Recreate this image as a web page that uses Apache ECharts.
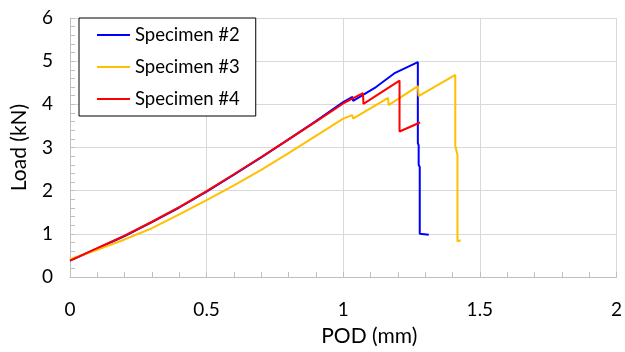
<!DOCTYPE html>
<html>
<head>
<meta charset="utf-8">
<script src="https://cdn.jsdelivr.net/npm/echarts@6/dist/echarts.min.js"></script>
<style>html,body{margin:0;padding:0;background:#fff}#c{width:625px;height:352px}</style>
</head>
<body>
<div id="c"></div>
<script>
// Specimen #2 (blue)
const podS2  = [0, 0.1, 0.2, 0.3, 0.4, 0.5, 0.6, 0.7, 0.8, 0.9, 1.0, 1.034, 1.036, 1.12, 1.19, 1.196, 1.273, 1.273, 1.276, 1.276, 1.28, 1.28, 1.313];
const loadS2 = [0.38, 0.66, 0.95, 1.27, 1.61, 1.98, 2.37, 2.77, 3.19, 3.61, 4.05, 4.17, 4.08, 4.40, 4.73, 4.72, 4.98, 3.10, 3.05, 2.60, 2.55, 1.00, 0.98];
// Specimen #3 (yellow)
const podS3  = [0, 0.1, 0.2, 0.3, 0.4, 0.5, 0.6, 0.7, 0.8, 0.9, 1.0, 1.033, 1.036, 1.164, 1.166, 1.273, 1.276, 1.41, 1.41, 1.412, 1.418, 1.418, 1.43];
const loadS3 = [0.41, 0.63, 0.87, 1.13, 1.45, 1.78, 2.12, 2.48, 2.87, 3.27, 3.67, 3.75, 3.67, 4.15, 3.98, 4.42, 4.19, 4.68, 3.05, 2.98, 2.83, 0.83, 0.85];
// Specimen #4 (red)
const podS4  = [0, 0.1, 0.2, 0.3, 0.4, 0.5, 0.6, 0.7, 0.8, 0.9, 1.0, 1.072, 1.074, 1.206, 1.206, 1.281];
const loadS4 = [0.38, 0.67, 0.96, 1.28, 1.62, 1.99, 2.38, 2.78, 3.19, 3.60, 4.02, 4.26, 4.01, 4.55, 3.37, 3.58];

const seriesNames = ['Specimen #2', 'Specimen #3', 'Specimen #4'];
const seriesColors = ['#0000FF', '#FFC000', '#FF0000'];

const zip = (xs, ys) => xs.map((x, i) => [x, ys[i]]);
const dataSets = [zip(podS2, loadS2), zip(podS3, loadS3), zip(podS4, loadS4)];

const FONT = 'Lato, "Open Sans", sans-serif';
const chart = echarts.init(document.getElementById('c'), null, {renderer: 'canvas'});
chart.setOption({
  animation: false,
  grid: {left: 70, right: 5, top: 18, bottom: 71, containLabel: false},
  legend: {
    orient: 'vertical',
    left: 79, top: 18,
    padding: [7, 16, 7, 18],
    icon: 'rect',
    itemWidth: 33, itemHeight: 2, itemGap: 12,
    borderColor: '#000', borderWidth: 1,
    backgroundColor: '#fff',
    textStyle: {fontFamily: FONT, fontSize: 18.5, lineHeight: 20, color: '#000'},
    data: seriesNames
  },
  xAxis: {
    type: 'value', min: 0, max: 2, interval: 0.5,
    name: 'POD (mm)', nameLocation: 'middle', nameGap: 49,
    nameTextStyle: {fontFamily: FONT, fontSize: 21, color: '#000', padding: [0, 0, 0, 52]},
    axisLine: {show: true, lineStyle: {color: '#bfbfbf', width: 1}},
    axisTick: {show: true, inside: true, length: 5, lineStyle: {color: '#bfbfbf'}},
    minorTick: {show: true, splitNumber: 5, length: 5, lineStyle: {color: '#bfbfbf'}},
    axisLabel: {fontFamily: FONT, fontSize: 19, color: '#000', margin: 23},
    splitLine: {show: true, lineStyle: {color: '#d9d9d9', width: 1}}
  },
  yAxis: {
    type: 'value', min: 0, max: 6, interval: 1,
    name: 'Load (kN)', nameLocation: 'middle', nameGap: 40,
    nameTextStyle: {fontFamily: FONT, fontSize: 21, color: '#000'},
    axisLine: {show: true, lineStyle: {color: '#bfbfbf', width: 1}},
    axisTick: {show: true, inside: true, length: 5, lineStyle: {color: '#bfbfbf'}},
    minorTick: {show: true, splitNumber: 5, length: 5, lineStyle: {color: '#bfbfbf'}},
    axisLabel: {fontFamily: FONT, fontSize: 19, color: '#000', margin: 17},
    splitLine: {show: true, lineStyle: {color: '#d9d9d9', width: 1}}
  },
  series: seriesNames.map((n, i) => ({
    name: n, type: 'line', data: dataSets[i],
    showSymbol: false, symbol: 'none',
    lineStyle: {color: seriesColors[i], width: 2},
    itemStyle: {color: seriesColors[i]},
    z: 2 + i
  }))
});
</script>
</body>
</html>
